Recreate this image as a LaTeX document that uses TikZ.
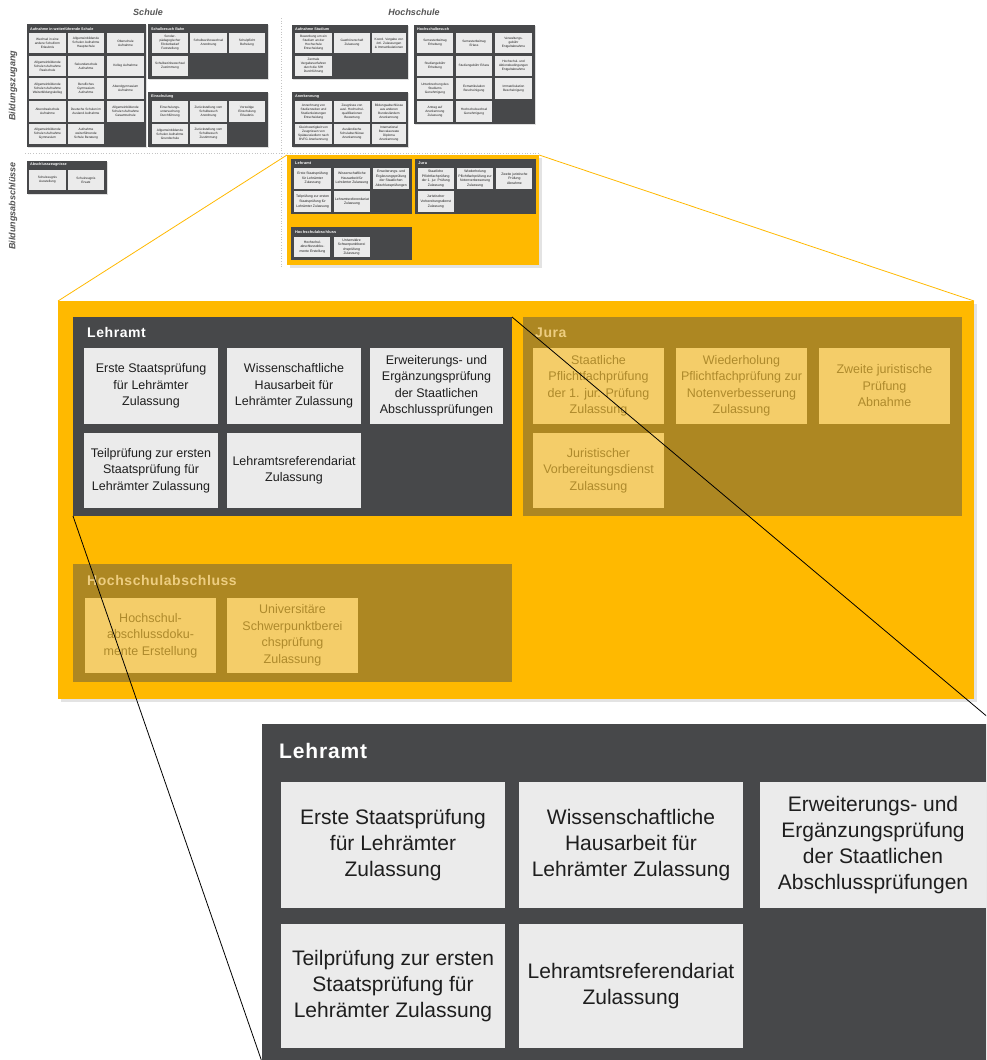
\documentclass[tikz,border=0pt]{standalone}
\usepackage{fontspec}
\setmainfont{Liberation Sans}
\usetikzlibrary{shadows}
\definecolor{dk}{HTML}{47484A}
\definecolor{cardc}{HTML}{EBEBEB}
\definecolor{txt}{HTML}{1E1E1E}
\definecolor{org}{HTML}{FFB900}
\definecolor{fbox}{HTML}{AD8722}
\definecolor{fcard}{HTML}{F4CD69}
\definecolor{ftxt}{HTML}{AE8A2C}
\definecolor{fhead}{HTML}{EDCD80}
\definecolor{sep}{HTML}{C4C4C4}
\definecolor{lbl}{HTML}{555555}
\newcommand\bx[7][]{\node[#1,minimum width={(#5)-(#3)},minimum height={(#6)-(#4)}] (#2) at ({((#3)+(#5))/2},{((#4)+(#6))/2}) {#7};}
\tikzset{
 box/.style={rectangle,inner sep=0pt,outer sep=0pt,align=center},
 sgroup/.style={box,fill=dk,drop shadow={shadow xshift=0.6pt,shadow yshift=-0.6pt,opacity=0.25}},
 scard/.style={box,fill=cardc,text=txt,font=\fontsize{3.2}{4.1}\selectfont},
 stitle/.style={anchor=west,inner sep=0pt,text=white,font=\bfseries\fontsize{3.7}{4}\selectfont},
 ogroup/.style={box,fill=org,drop shadow={shadow xshift=3pt,shadow yshift=-3pt,opacity=0.22}},
 dgroup/.style={box,fill=dk},
 bcard/.style={box,fill=cardc,text=txt,font=\fontsize{12.5}{16.5}\selectfont},
 btitle/.style={anchor=base west,inner sep=0pt,text=white,font=\bfseries\fontsize{14}{16}\selectfont\addfontfeature{LetterSpace=4}},
 zcard/.style={box,fill=cardc,text=txt,font=\fontsize{21}{26}\selectfont},
 ztitle/.style={anchor=base west,inner sep=0pt,text=white,font=\bfseries\fontsize{21}{24}\selectfont\addfontfeature{LetterSpace=4}},
 head/.style={text=lbl,inner sep=0pt,font=\bfseries\itshape\fontsize{9}{10}\selectfont},
 sepline/.style={draw=sep,dotted,line width=0.7pt},
 zoomline/.style={draw=black,line width=0.8pt},
 yline/.style={draw=org,line width=0.8pt},
}
\newcommand\orangecontent[5]{%
 \bx[ogroup]{#1org}{58}{301}{974}{699}{}
 \bx[dgroup]{#1lehr}{73}{317}{512}{516}{}
 \node[btitle] (#1lehrT) at (87,337) {Lehramt};
 \bx[bcard]{#1l1}{84}{348}{218}{424}{Erste Staatsprüfung\\für Lehrämter\\Zulassung}
 \bx[bcard]{#1l2}{227}{348}{361}{424}{Wissenschaftliche\\Hausarbeit für\\Lehrämter Zulassung}
 \bx[bcard]{#1l3}{370}{348}{503}{424}{Erweiterungs- und\\Ergänzungsprüfung\\der Staatlichen\\Abschlussprüfungen}
 \bx[bcard]{#1l4}{84}{433}{218}{508}{Teilprüfung zur ersten\\Staatsprüfung für\\Lehrämter Zulassung}
 \bx[bcard]{#1l5}{227}{433}{361}{508}{Lehramtsreferendariat\\Zulassung}
 \bx[dgroup,fill=#2]{#1jura}{523}{317}{962}{516}{}
 \node[btitle,text=#5] (#1juraT) at (535,337) {Jura};
 \bx[bcard,fill=#3,text=#4]{#1j1}{533}{348}{664}{424}{Staatliche\\Pflichtfachprüfung\\der 1. jur. Prüfung\\Zulassung}
 \bx[bcard,fill=#3,text=#4]{#1j2}{676}{348}{807}{424}{Wiederholung\\Pflichtfachprüfung zur\\Notenverbesserung\\Zulassung}
 \bx[bcard,fill=#3,text=#4]{#1j3}{819}{348}{950}{424}{Zweite juristische\\Prüfung\\Abnahme}
 \bx[bcard,fill=#3,text=#4]{#1j4}{533}{433}{664}{508}{Juristischer\\Vorbereitungsdienst\\Zulassung}
 \bx[dgroup,fill=#2]{#1hsa}{73}{564}{512}{682}{}
 \node[btitle,text=#5] (#1hsaT) at (87,585) {Hochschulabschluss};
 \bx[bcard,fill=#3,text=#4]{#1h1}{85}{598}{216}{673}{Hochschul-\\abschlussdoku-\\mente Erstellung}
 \bx[bcard,fill=#3,text=#4]{#1h2}{227}{598}{358}{673}{Universitäre\\Schwerpunktberei\\chsprüfung\\Zulassung}
}
\begin{document}
\begin{tikzpicture}[x=1pt,y=-1pt]
\useasboundingbox (0,0) rectangle (986,1060);
\clip (0,0) rectangle (986,1060);
\fill[white] (0,0) rectangle (986,1060);
% headings
\node[head] (schule) at (148,12) {Schule};
\node[head] (hoch) at (414,12) {Hochschule};
\node[head,rotate=90] (bz) at (13,86) {Bildungszugang};
\node[head,rotate=90] (ba) at (13,206) {Bildungsabschlüsse};
\coordinate (v1) at (281,18); \coordinate (v2) at (281,268);
\coordinate (h1) at (25,153); \coordinate (h2) at (540,153);
\draw[sepline] (v1) -- (v2);
\draw[sepline] (h1) -- (h2);
% Aufnahme in weiterfuehrende Schule
\bx[sgroup]{g1}{27}{24}{146}{147}{}
\node[stitle] (g1T) at (30,29) {Aufnahme in weiterführende Schule};
\bx[scard]{a1}{29}{33}{66}{53}{Wechsel in eine\\andere Schulform\\Erlaubnis}
\bx[scard]{a2}{68}{33}{104}{53}{Allgemeinbildende\\Schulen Aufnahme\\Hauptschule}
\bx[scard]{a3}{107}{33}{144}{53}{Oberschule\\Aufnahme}
\bx[scard]{a4}{29}{56}{66}{76}{Allgemeinbildende\\Schulen Aufnahme\\Realschule}
\bx[scard]{a5}{68}{56}{104}{76}{Sekundarschule\\Aufnahme}
\bx[scard]{a6}{107}{56}{144}{76}{Kolleg Aufnahme}
\bx[scard]{a7}{29}{78}{66}{99}{Allgemeinbildende\\Schulen Aufnahme\\Weiterbildungskolleg}
\bx[scard]{a8}{68}{78}{104}{99}{Berufliches\\Gymnasium\\Aufnahme}
\bx[scard]{a9}{107}{78}{144}{99}{Abendgymnasium\\Aufnahme}
\bx[scard]{a10}{29}{101}{66}{122}{Abendrealschule\\Aufnahme}
\bx[scard]{a11}{68}{101}{104}{122}{Deutsche Schulen im\\Ausland Aufnahme}
\bx[scard]{a12}{107}{101}{144}{122}{Allgemeinbildende\\Schulen Aufnahme\\Gesamtschule}
\bx[scard]{a13}{29}{124}{66}{144}{Allgemeinbildende\\Schulen Aufnahme\\Gymnasium}
\bx[scard]{a14}{68}{124}{104}{144}{Aufnahme\\weiterführende\\Schule Beratung}
% Schulbesuch
\bx[sgroup]{g2}{148}{24}{268}{79}{}
\node[stitle] (g2T) at (151,29) {Schulbesuch Bahn};
\bx[scard]{b1}{152}{33}{188}{53}{Sonder-\\pädagogischer\\Förderbedarf\\Feststellung}
\bx[scard]{b2}{190}{33}{227}{53}{Schulbezirkswechsel\\Anordnung}
\bx[scard]{b3}{229}{33}{265}{53}{Schulpflicht\\Befreiung}
\bx[scard]{b4}{152}{56}{188}{76}{Schulbezirkswechsel\\Zustimmung}
% Einschulung
\bx[sgroup]{g3}{148}{92}{268}{147}{}
\node[stitle] (g3T) at (151,97) {Einschulung};
\bx[scard]{c1}{152}{101}{188}{122}{Einschulungs-\\untersuchung\\Durchführung}
\bx[scard]{c2}{190}{101}{227}{122}{Zurückstellung vom\\Schulbesuch\\Anordnung}
\bx[scard]{c3}{229}{101}{265}{122}{Vorzeitige\\Einschulung\\Erlaubnis}
\bx[scard]{c4}{152}{124}{188}{144}{Allgemeinbildende\\Schulen Aufnahme\\Grundschule}
\bx[scard]{c5}{190}{124}{227}{144}{Zurückstellung vom\\Schulbesuch\\Zustimmung}
% Aufnahme Studium
\bx[sgroup]{g4}{292}{25}{408}{79}{}
\node[stitle] (g4T) at (295,29) {Aufnahme Studium};
\bx[scard]{d1}{295}{33}{332}{53}{Bewerbung um ein\\Studium an der\\Hochschule\\Entscheidung}
\bx[scard]{d2}{334}{33}{370}{53}{Gasthörerschaft\\Zulassung}
\bx[scard]{d3}{372}{33}{406}{53}{Koord. Vergabe von\\örtl. Zulassungen\\\& Immatrikulationen}
\bx[scard]{d4}{295}{56}{332}{76}{Zentrale\\Vergabeverfahren\\durch die SfH\\Durchführung}
% Anerkennung
\bx[sgroup]{g5}{292}{92}{408}{147}{}
\node[stitle] (g5T) at (295,97) {Anerkennung};
\bx[scard]{e1}{295}{101}{332}{122}{Anrechnung von\\Studienzeiten und\\Studienleistungen\\Entscheidung}
\bx[scard]{e2}{334}{101}{370}{122}{Zeugnisse von\\ausl. Hochschul-\\qualifikationen\\Bewertung}
\bx[scard]{e3}{372}{101}{406}{122}{Bildungsabschlüsse\\aus anderen\\Bundesländern\\Anerkennung}
\bx[scard]{e4}{295}{124}{332}{144}{Gleichwertigkeit von\\Zeugnissen von\\Spätaussiedlern nach\\BVFG Anerkennung}
\bx[scard]{e5}{334}{124}{370}{144}{Ausländische\\Schulabschlüsse\\Anerkennung}
\bx[scard]{e6}{372}{124}{406}{144}{International\\Baccalaureate\\Diploma\\Anerkennung}
% Hochschulbesuch
\bx[sgroup]{g6}{414}{25}{535}{124}{}
\node[stitle] (g6T) at (417,29) {Hochschulbesuch};
\bx[scard]{f1}{417}{33}{453}{53}{Semesterbeitrag\\Erhebung}
\bx[scard]{f2}{456}{33}{492}{53}{Semesterbeitrag\\Erlass}
\bx[scard]{f3}{495}{33}{532}{53}{Verwaltungs-\\gebühr\\Entgeltabnahme}
\bx[scard]{f4}{417}{56}{453}{76}{Studiengebühr\\Erhebung}
\bx[scard]{f5}{456}{56}{492}{76}{Studiengebühr Erlass}
\bx[scard]{f6}{495}{56}{532}{76}{Hochschul- und\\Aktionsbedingungen\\Entgeltabnahme}
\bx[scard]{f7}{417}{78}{453}{99}{Unterbrechung des\\Studiums\\Genehmigung}
\bx[scard]{f8}{456}{78}{492}{99}{Exmatrikulation\\Bescheinigung}
\bx[scard]{f9}{495}{78}{532}{99}{Immatrikulation\\Bescheinigung}
\bx[scard]{f10}{417}{101}{453}{122}{Antrag auf\\Anerkennung\\Zulassung}
\bx[scard]{f11}{456}{101}{492}{122}{Hochschulwechsel\\Genehmigung}
% Abschlusszeugnisse
\bx[sgroup]{g7}{27}{161}{107}{194}{}
\node[stitle] (g7T) at (30,165) {Abschlusszeugnisse};
\bx[scard]{k1}{29}{170}{66}{190}{Schulzeugnis\\Ausstellung}
\bx[scard]{k2}{68}{170}{104}{190}{Schulzeugnis\\Ersatz}
% small orange overview
\begin{scope}[shift={(287,155)},scale=0.2752,shift={(-58,-301)},every node/.append style={transform shape}]
 \orangecontent{s}{dk}{cardc}{txt}{white}
\end{scope}
% big orange
\orangecontent{b}{fbox}{fcard}{ftxt}{fhead}
\draw[yline] (sorg.north west) -- (borg.north west);
\draw[yline] (sorg.north east) -- (borg.north east);
% zoomed Lehramt
\bx[dgroup]{zl}{262}{724}{996}{1062}{}
\node[ztitle] (zlT) at (279,758) {Lehramt};
\bx[zcard]{z1}{281}{782}{505}{908}{Erste Staatsprüfung\\für Lehrämter\\Zulassung}
\bx[zcard]{z2}{519}{782}{743}{908}{Wissenschaftliche\\Hausarbeit für\\Lehrämter Zulassung}
\bx[zcard]{z3}{760}{782}{986}{908}{Erweiterungs- und\\Ergänzungsprüfung\\der Staatlichen\\Abschlussprüfungen}
\bx[zcard]{z4}{281}{924}{505}{1048}{Teilprüfung zur ersten\\Staatsprüfung für\\Lehrämter Zulassung}
\bx[zcard]{z5}{519}{924}{743}{1048}{Lehramtsreferendariat\\Zulassung}
\draw[zoomline] (blehr.north east) -- (zl.north east);
\draw[zoomline] (blehr.south west) -- (zl.south west);
\end{tikzpicture}
\end{document}
